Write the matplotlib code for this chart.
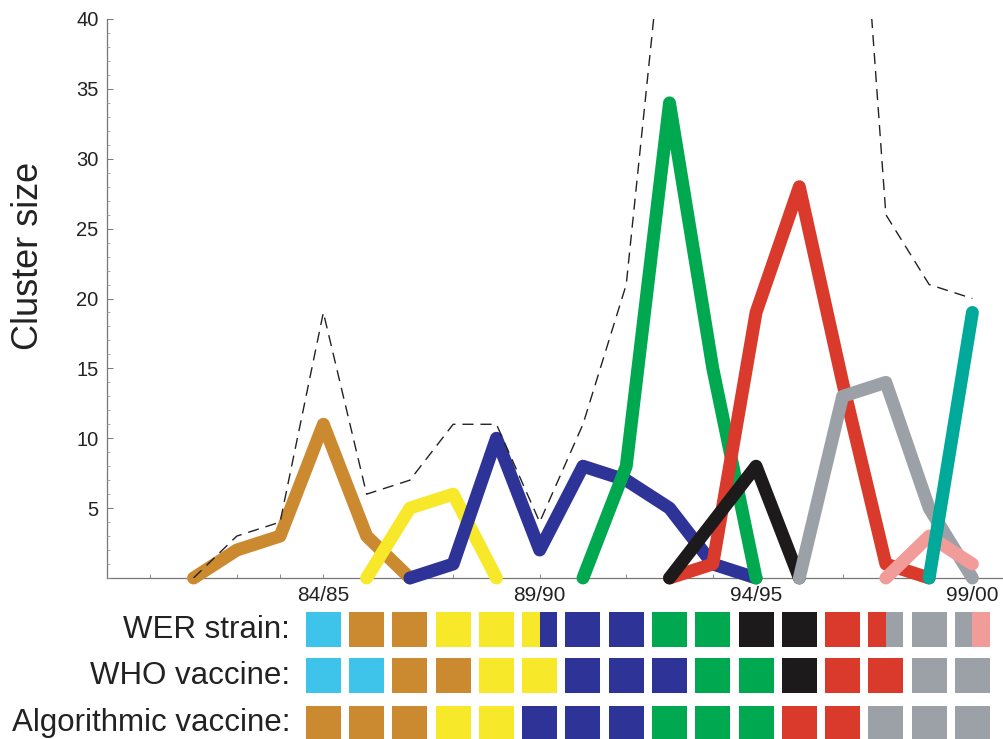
import matplotlib.pyplot as plt
from matplotlib.patches import Rectangle
from matplotlib.ticker import MultipleLocator, FixedLocator, FixedFormatter

plt.rcParams['font.family'] = ['Liberation Sans', 'DejaVu Sans']

# season start years, 84/85 -> 1984
brown_x = [1981, 1982, 1983, 1984, 1985, 1986]
brown_y = [0, 2, 3, 11, 3, 0]
yellow_x = [1985, 1986, 1987, 1988]
yellow_y = [0, 5, 6, 0]
blue_x = [1986, 1987, 1988, 1989, 1990, 1991, 1992, 1993, 1994]
blue_y = [0, 1, 10, 2, 8, 7, 5, 1, 0]
green_x = [1990, 1991, 1992, 1993, 1994]
green_y = [0, 8, 34, 15, 0]
red_x = [1992, 1993, 1994, 1995, 1996, 1997, 1998]
red_y = [0, 1, 19, 28, 14, 1, 0]
black_x = [1992, 1993, 1994, 1995]
black_y = [0, 4, 8, 0]
gray_x = [1995, 1996, 1997, 1998, 1999]
gray_y = [0, 13, 14, 5, 0]
pink_x = [1997, 1998, 1999]
pink_y = [0, 3, 1]
teal_x = [1998, 1999]
teal_y = [0, 19]

total_x = list(range(1981, 2000))
total_y = [0, 3, 4, 19, 6, 7, 11, 11, 4, 11, 21, 51, 60, 58, 62, 69, 26, 21, 20]

seasons = list(range(1984, 2000))
wer_strain = ['cyan', 'brown', 'brown', 'yellow', 'yellow', 'yellow|blue', 'blue', 'blue',
              'green', 'green', 'black', 'black', 'red', 'red|gray', 'gray', 'gray|pink']
who_vaccine = ['cyan', 'cyan', 'brown', 'brown', 'yellow', 'yellow', 'blue', 'blue',
               'blue', 'green', 'green', 'black', 'red', 'red', 'gray', 'gray']
alg_vaccine = ['brown', 'brown', 'brown', 'yellow', 'yellow', 'blue', 'blue', 'blue',
               'green', 'green', 'green', 'red', 'red', 'gray', 'gray', 'gray']
row_names = ['WER strain:', 'WHO vaccine:', 'Algorithmic vaccine:']

colors = {
    'brown': '#CB8A2F',
    'yellow': '#F8E82A',
    'blue': '#2E3397',
    'green': '#00A84F',
    'red': '#D93A2B',
    'black': '#1C1A1A',
    'gray': '#9CA1A7',
    'pink': '#F29C9A',
    'teal': '#00A99A',
    'cyan': '#3EC4EA',
}

W, H = 1004, 739
fig = plt.figure(figsize=(W / 100, H / 100), dpi=100)

# main plot area in pixels: left 107, top 19, bottom 578, right edge
ax = fig.add_axes([107 / W, (H - 578) / H, (W - 107) / W, (578 - 19) / H])
x0 = 1979
x1 = 1979 + (W - 107) / 43.27
ax.set_xlim(x0, x1)
ax.set_ylim(0, 40)

series = [
    (brown_x, brown_y, 'brown'),
    (yellow_x, yellow_y, 'yellow'),
    (blue_x, blue_y, 'blue'),
    (green_x, green_y, 'green'),
    (red_x, red_y, 'red'),
    (black_x, black_y, 'black'),
    (gray_x, gray_y, 'gray'),
    (pink_x, pink_y, 'pink'),
    (teal_x, teal_y, 'teal'),
]
for xs, ys, c in series:
    ax.plot(xs, ys, color=colors[c], lw=9.3, solid_capstyle='round',
            solid_joinstyle='round', clip_on=False, zorder=3)

ax.plot(total_x, total_y, color='#222222', lw=1.0, linestyle=(0, (8, 5)), zorder=4)

for s in ['top', 'right']:
    ax.spines[s].set_visible(False)
for s in ['left', 'bottom']:
    ax.spines[s].set_color('#777777')
    ax.spines[s].set_linewidth(0.9)
    ax.spines[s].set_zorder(1)

ax.yaxis.set_major_locator(FixedLocator([5, 10, 15, 20, 25, 30, 35, 40]))
ax.yaxis.set_minor_locator(MultipleLocator(1))
ax.xaxis.set_major_locator(FixedLocator([1984, 1989, 1994, 1999]))
ax.xaxis.set_major_formatter(FixedFormatter(['84/85', '89/90', '94/95', '99/00']))
ax.xaxis.set_minor_locator(FixedLocator(list(range(1980, 2000))))
ax.tick_params(axis='y', which='major', direction='in', length=4.5, width=0.7,
               color='#777777', labelsize=14.5, pad=6, labelcolor='#222222')
ax.tick_params(axis='y', which='minor', direction='in', length=2.2, width=0.6, color='#999999')
ax.tick_params(axis='x', which='both', direction='in', length=3, width=0.6,
               color='#777777', labelsize=15, pad=6, labelcolor='#222222')
ax.set_ylabel('Cluster size', fontsize=26, color='#222222')
ax.yaxis.set_label_coords((46 - 107) / (W - 107), (578 - 256) / (578 - 19))

# colour strip below the plot, y measured in pixels from y=600 downward
ax2 = fig.add_axes([107 / W, 0, (W - 107) / W, (H - 600) / H])
ax2.set_xlim(x0, x1)
ax2.set_ylim(H - 600, 0)
ax2.axis('off')

sq_w = 35 / 43.27
row_tops = [12, 58, 106]
for top, row in zip(row_tops, [wer_strain, who_vaccine, alg_vaccine]):
    for yr, cell in zip(seasons, row):
        parts = cell.split('|')
        pw = sq_w / len(parts)
        for k, p in enumerate(parts):
            ax2.add_patch(Rectangle((yr - sq_w / 2 + k * pw, top), pw, 35,
                                    facecolor=colors[p], edgecolor='none', clip_on=False))

for top, name in zip(row_tops, row_names):
    fig.text(290 / W, 1 - (600 + top + 17.5) / H, name, ha='right', va='center',
             fontsize=22.5, color='#222222')

fig.savefig('out.png', dpi=100)
